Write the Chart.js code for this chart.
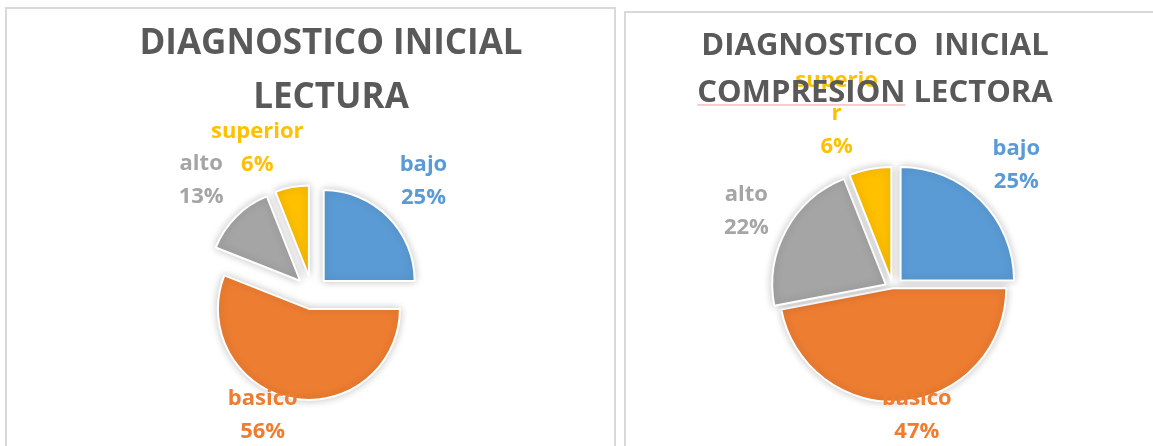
<!DOCTYPE html>
<html>
<head>
<meta charset="utf-8">
<title>Diagnostico inicial</title>
<script src="https://cdn.jsdelivr.net/npm/chart.js@4.4.1/dist/chart.umd.min.js"></script>
<style>
  html, body { margin: 0; padding: 0; background: #fff; width: 1153px; height: 446px; overflow: hidden; }
  .frame { position: absolute; border: 2px solid #d9d9d9; box-sizing: border-box; }
  #frame-left { left: 5px; top: 7px; width: 611px; height: 470px; }
  #frame-right { left: 624px; top: 11px; width: 560px; height: 470px; }
  canvas { position: absolute; }
  #chart-left { left: 7px; top: 9px; }
  #chart-right { left: 626px; top: 13px; }
</style>
</head>
<body>
<div class="frame" id="frame-left"></div>
<div class="frame" id="frame-right"></div>
<canvas id="chart-left" width="606" height="439"></canvas>
<canvas id="chart-right" width="527" height="435"></canvas>
<script>
// the two "diagnostico inicial" pies, Excel style (exploded slices, labels outside)

const categories = ["bajo", "basico", "alto", "superior"];
const lecturaValues = [25, 56, 13, 6];
const comprensionValues = [25, 47, 22, 6];
const sliceColors = ["#5b9bd5", "#ed7d31", "#a5a5a5", "#ffc000"];

const lecturaTitle = ["DIAGNOSTICO INICIAL", "LECTURA"];
const comprensionTitle = ["DIAGNOSTICO  INICIAL", "COMPRESION LECTORA"];

// Excel wrapped "superior" on the right chart, keep it that way
const lecturaLabelLines = [["bajo"], ["basico"], ["alto"], ["superior"]];
const comprensionLabelLines = [["bajo"], ["basico"], ["alto"], ["superio", "r"]];

const FONT = "'Open Sans', 'DejaVu Sans', sans-serif";

const excelPie = {
  id: "excelPie",
  // draw each arc shifted out along its mid angle, with a soft shadow
  beforeDatasetDraw(chart, args, opts) {
    const ctx = chart.ctx;
    args.meta.data.forEach((arc, i) => {
      const mid = (arc.startAngle + arc.endAngle) / 2;
      const d = opts.explode[i] || 0;
      ctx.save();
      ctx.translate(Math.cos(mid) * d, Math.sin(mid) * d);
      ctx.shadowColor = "rgba(0, 0, 0, 0.22)";
      ctx.shadowBlur = 8;
      arc.draw(ctx);
      ctx.restore();
    });
    return false;
  },
  afterDatasetsDraw(chart, args, opts) {
    const ctx = chart.ctx;
    const meta = chart.getDatasetMeta(0);
    const values = chart.data.datasets[0].data;
    const total = values.reduce((a, b) => a + b, 0);
    ctx.save();
    ctx.font = "bold 22px " + FONT;
    ctx.textAlign = "center";
    ctx.textBaseline = "middle";
    meta.data.forEach((arc, i) => {
      const lines = opts.labelLines[i].concat(Math.round(values[i] / total * 100) + "%");
      const w = Math.max(...lines.map((t) => ctx.measureText(t).width));
      const h = lines.length * opts.lineHeight;
      const mid = (arc.startAngle + arc.endAngle) / 2;
      const ux = Math.cos(mid);
      const uy = Math.sin(mid);
      const dist = arc.outerRadius + (opts.explode[i] || 0) + opts.labelGap +
        Math.abs(ux) * w / 2 + Math.abs(uy) * h / 2;
      let x = arc.x + ux * dist;
      let y = arc.y + uy * dist;
      // keep the label inside the chart, like Excel does
      x = Math.min(Math.max(x, w / 2), chart.width - w / 2);
      y = Math.min(Math.max(y, h / 2), chart.height - h / 2);
      // Excel's "best fit" nudges a couple of labels sideways
      const nudge = opts.labelNudge[i] || [0, 0];
      x += nudge[0];
      y += nudge[1];
      ctx.fillStyle = sliceColors[i];
      lines.forEach((t, k) => ctx.fillText(t, x, y - h / 2 + opts.lineHeight * (k + 0.5)));
    });
    ctx.restore();
  },
  afterDraw(chart, args, opts) {
    const ctx = chart.ctx;
    ctx.save();
    ctx.font = "bold " + opts.titleSize + "px " + FONT;
    ctx.fillStyle = "#595959";
    ctx.textAlign = "center";
    ctx.textBaseline = "middle";
    opts.title.forEach((t, k) => ctx.fillText(t, opts.titleX, opts.titleY + k * opts.titleLineHeight));
    if (opts.squiggle) {
      // spell-check line under the first word of the last title line
      const line = opts.title[opts.title.length - 1];
      const word = line.split(" ")[0];
      const x0 = opts.titleX - ctx.measureText(line).width / 2;
      const y0 = opts.titleY + (opts.title.length - 1) * opts.titleLineHeight + opts.titleSize * 0.37;
      ctx.strokeStyle = "rgba(235, 90, 90, 0.6)";
      ctx.lineWidth = 1;
      ctx.beginPath();
      ctx.moveTo(x0, y0 + 0.5);
      ctx.lineTo(x0 + ctx.measureText(word).width, y0 + 0.5);
      ctx.stroke();
    }
    ctx.restore();
  },
};

function makePie(canvasId, values, cfg) {
  const canvas = document.getElementById(canvasId);
  const W = canvas.width;
  const H = canvas.height;
  // pad the chart area so its middle lands on the pie centre
  const padding = {
    left: Math.max(0, 2 * cfg.center.x - W),
    right: Math.max(0, W - 2 * cfg.center.x),
    top: Math.max(0, 2 * cfg.center.y - H),
    bottom: Math.max(0, H - 2 * cfg.center.y),
  };
  return new Chart(canvas, {
    type: "pie",
    data: {
      labels: categories,
      datasets: [{
        data: values,
        backgroundColor: sliceColors,
        borderColor: "#ffffff",
        borderWidth: 2,
        radius: cfg.radius,
      }],
    },
    options: {
      responsive: false,
      animation: false,
      events: [],
      layout: { padding },
      plugins: {
        legend: { display: false },
        tooltip: { enabled: false },
        excelPie: {
          explode: cfg.explode,
          labelLines: cfg.labelLines,
          labelNudge: cfg.labelNudge,
          labelGap: 10,
          lineHeight: 33,
          title: cfg.title,
          titleSize: cfg.titleSize,
          titleX: cfg.titleX,
          titleY: cfg.titleY,
          titleLineHeight: cfg.titleLineHeight,
          squiggle: cfg.squiggle || false,
        },
      },
    },
    plugins: [excelPie],
  });
}

makePie("chart-left", lecturaValues, {
  center: { x: 305, y: 283.7 },
  radius: 91,
  explode: [16.5, 16.5, 16.5, 16.5],
  labelLines: lecturaLabelLines,
  labelNudge: [[0, 0], [-20, 0], [0, -2], [-25, 11]],
  title: lecturaTitle,
  titleSize: 35,
  titleX: 324,
  titleY: 35,
  titleLineHeight: 54,
});

makePie("chart-right", comprensionValues, {
  center: { x: 266.8, y: 275.3 },
  radius: 113.5,
  explode: [11, 0, 8, 8],
  labelLines: comprensionLabelLines,
  labelNudge: [[0, 0], [9, 0], [0, 3], [-21, 10]],
  title: comprensionTitle,
  titleSize: 31,
  titleX: 249,
  titleY: 33,
  titleLineHeight: 47,
  squiggle: true,
});
</script>
</body>
</html>
